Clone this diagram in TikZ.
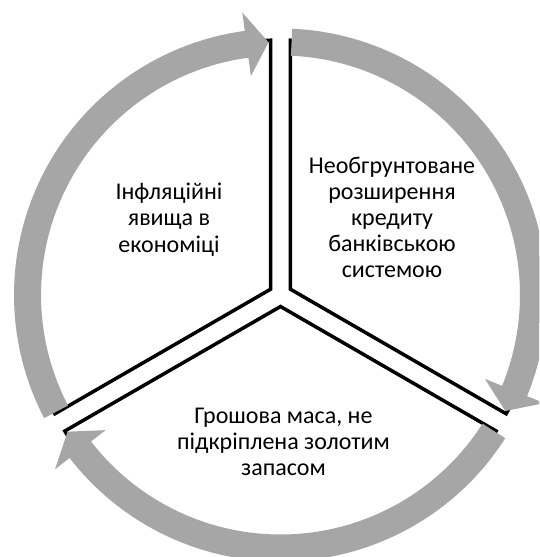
\documentclass[tikz,border=0pt]{standalone}
\usepackage{fontspec}
\setmainfont{Carlito}
\usetikzlibrary{calc}
\definecolor{arrowgray}{RGB}{166,166,166}
% ring geometry (pt)
\newcommand{\rout}{266.5pt}
\newcommand{\rin}{239.5pt}
\newcommand{\rmid}{253pt}
\newcommand{\hout}{285pt}
\newcommand{\hin}{221pt}
\newcommand{\seclen}{249pt}
% curved arrow: tail angle #1, tip angle #2 (clockwise)
\newcommand{\arcarrow}[2]{%
  \fill[arrowgray] (#1:\rout) arc[start angle=#1, end angle={#2+5}, radius=\rout]
    -- ({#2+5}:\hout) -- (#2:\rmid) -- ({#2+5}:\hin) -- ({#2+5}:\rin)
    arc[start angle={#2+5}, end angle=#1, radius=\rin] -- cycle;}
\begin{document}
\begin{tikzpicture}[x=1pt,y=1pt,
  sector/.style={draw=black, line width=3.5pt, line join=miter},
  label/.style={align=center, font=\fontsize{24}{26}\selectfont, inner sep=0pt, anchor=base}]
\useasboundingbox (-280.5,-262) rectangle (258.5,295);
\clip (-280.5,-262) rectangle (258.5,295);
\fill[white] (-280.5,-262) rectangle (258.5,295);

% apexes of the three exploded sectors
\coordinate (v1) at (150:11.5pt);
\coordinate (v2) at (30:11.5pt);
\coordinate (v3) at (270:11.5pt);

% sector outlines
\draw[sector] (v1) -- ++(90:\seclen) arc[start angle=90, end angle=210, radius=\seclen] -- cycle;
\draw[sector] (v2) -- ++(-30:\seclen) arc[start angle=-30, end angle=90, radius=\seclen] -- cycle;
\draw[sector] (v3) -- ++(210:\seclen) arc[start angle=210, end angle=330, radius=\seclen] -- cycle;

% circular arrows
\arcarrow{87.5}{-27.3}
\arcarrow{-32.5}{-147.3}
\arcarrow{207.5}{92.7}

% texts (base anchor sits on the last line)
\node[label] (t1) at (111.5,18) {Необгрунтоване\\розширення\\кредиту\\банківською\\системою};
\node[label] (t2) at (-111.5,43) {Інфляційні\\явища в\\економіці};
\node[label] (t3) at (3,-180) {Грошова маса, не\\підкріплена золотим\\запасом};
\end{tikzpicture}
\end{document}
